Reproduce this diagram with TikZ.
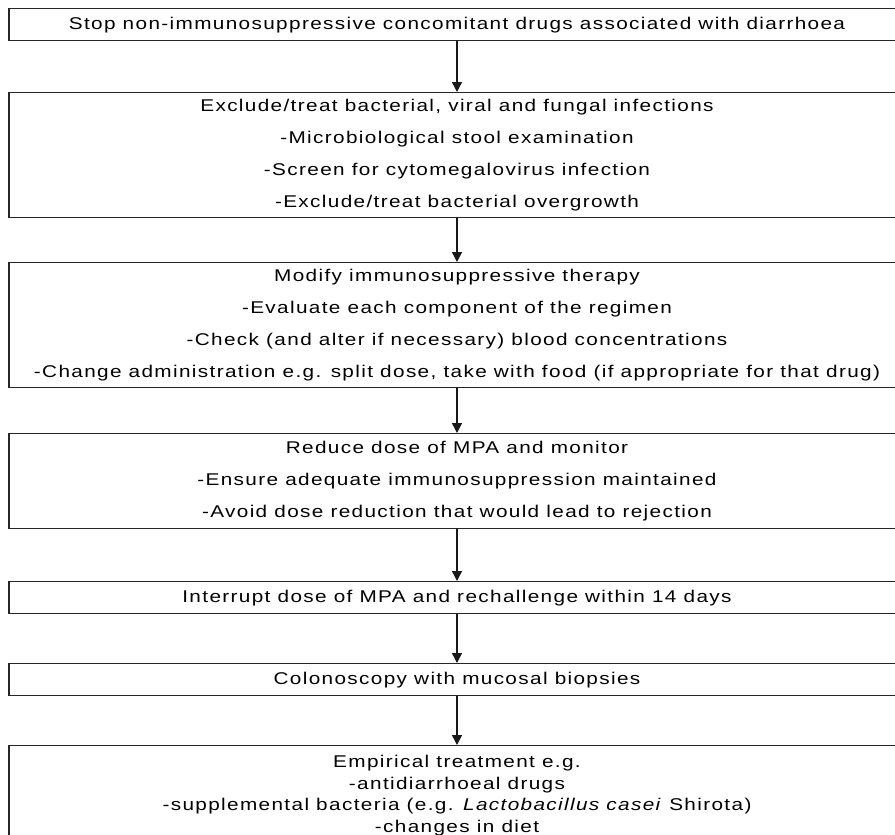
\documentclass[tikz,border=0pt]{standalone}
\usepackage{fontspec}
\setmainfont[FakeStretch=1.22,LetterSpace=8]{Liberation Sans}
\usetikzlibrary{arrows.meta}
\tikzset{
  box/.style={draw=black!85, line width=1.3pt, minimum width=896pt, inner sep=0pt, align=center, anchor=north, font=\fontsize{17}{32}\selectfont},
  tight/.style={font=\fontsize{17}{21.5}\selectfont},
  flow/.style={draw=black!90, line width=1.4pt, -{Triangle[length=10pt,width=10pt]}}
}
\begin{document}
\begin{tikzpicture}[x=1pt,y=1pt]
\useasboundingbox (0,0) rectangle (895,-835);
\node[box, minimum height=32pt] (b1) at (457,-8) {Stop non-immunosuppressive concomitant drugs associated with diarrhoea};
\node[box, minimum height=125pt] (b2) at (457,-92) {Exclude/treat bacterial, viral and fungal infections\\-Microbiological stool examination\\-Screen for cytomegalovirus infection\\-Exclude/treat bacterial overgrowth};
\node[box, minimum height=125pt] (b3) at (457,-262) {Modify immunosuppressive therapy\\-Evaluate each component of the regimen\\-Check (and alter if necessary) blood concentrations\\-Change administration e.g. split dose, take with food (if appropriate for that drug)};
\node[box, minimum height=95pt] (b4) at (457,-433) {Reduce dose of MPA and monitor\\-Ensure adequate immunosuppression maintained\\-Avoid dose reduction that would lead to rejection};
\node[box, minimum height=32pt] (b5) at (457,-581) {Interrupt dose of MPA and rechallenge within 14 days};
\node[box, minimum height=32pt] (b6) at (457,-663) {Colonoscopy with mucosal biopsies};
\node[box, tight, minimum height=100pt, anchor=north] (b7) at (457,-745) {};
\node[tight, align=center, anchor=north, inner sep=0pt] (t7) at (457,-755) {Empirical treatment e.g.\\-antidiarrhoeal drugs\\-supplemental bacteria (e.g. \textit{Lactobacillus casei} Shirota)\\-changes in diet};
\draw[flow] (b1) -- (b2);
\draw[flow] (b2) -- (b3);
\draw[flow] (b3) -- (b4);
\draw[flow] (b4) -- (b5);
\draw[flow] (b5) -- (b6);
\draw[flow] (b6) -- (b7);
\end{tikzpicture}
\end{document}
